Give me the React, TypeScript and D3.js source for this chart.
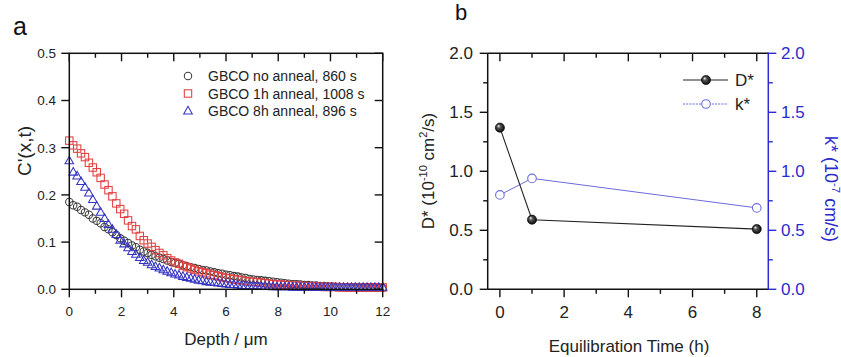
import React from "react";
import * as d3 from "d3";

// panel a: tracer profiles, depth in um
const depth = [
	0, 0.15, 0.3, 0.45, 0.6, 0.75, 0.9, 1.05, 1.2, 1.35, 1.5, 1.65, 1.8, 1.95, 2.1, 2.25, 2.4, 2.55, 2.7, 2.85,
	3, 3.15, 3.3, 3.45, 3.6, 3.75, 3.9, 4.05, 4.2, 4.35, 4.5, 4.65, 4.8, 4.95, 5.1, 5.25, 5.4, 5.55, 5.7, 5.85,
	6, 6.15, 6.3, 6.45, 6.6, 6.75, 6.9, 7.05, 7.2, 7.35, 7.5, 7.65, 7.8, 7.95, 8.1, 8.25, 8.4, 8.55, 8.7, 8.85,
	9, 9.15, 9.3, 9.45, 9.6, 9.75, 9.9, 10.05, 10.2, 10.35, 10.5, 10.65, 10.8, 10.95, 11.1, 11.25, 11.4, 11.55,
	11.7, 11.85, 12,
];
const cNoAnneal = [
	0.185, 0.178, 0.175, 0.168, 0.163, 0.158, 0.15, 0.145, 0.14, 0.132, 0.127, 0.121, 0.115, 0.108, 0.103, 0.098,
	0.093, 0.089, 0.084, 0.08, 0.077, 0.073, 0.07, 0.067, 0.064, 0.061, 0.058, 0.056, 0.054, 0.051, 0.049, 0.047,
	0.045, 0.043, 0.041, 0.04, 0.038, 0.036, 0.034, 0.033, 0.031, 0.03, 0.028, 0.027, 0.025, 0.024, 0.022, 0.021,
	0.02, 0.019, 0.018, 0.017, 0.016, 0.015, 0.014, 0.013, 0.012, 0.011, 0.011, 0.01, 0.009, 0.009, 0.008, 0.008,
	0.007, 0.007, 0.006, 0.006, 0.005, 0.005, 0.005, 0.004, 0.004, 0.004, 0.004, 0.003, 0.003, 0.003, 0.003, 0.003,
	0.003,
];
const c1h = [
	0.315, 0.305, 0.298, 0.288, 0.28, 0.268, 0.258, 0.248, 0.236, 0.222, 0.21, 0.197, 0.182, 0.17, 0.16, 0.146,
	0.134, 0.127, 0.113, 0.104, 0.097, 0.09, 0.083, 0.077, 0.072, 0.066, 0.061, 0.057, 0.054, 0.05, 0.047, 0.044,
	0.041, 0.038, 0.036, 0.034, 0.031, 0.03, 0.028, 0.026, 0.024, 0.023, 0.021, 0.02, 0.019, 0.017, 0.016, 0.016,
	0.015, 0.014, 0.013, 0.012, 0.011, 0.01, 0.01, 0.009, 0.009, 0.008, 0.008, 0.007, 0.007, 0.007, 0.006, 0.006,
	0.006, 0.005, 0.005, 0.005, 0.005, 0.004, 0.004, 0.004, 0.004, 0.004, 0.004, 0.004, 0.004, 0.004, 0.004, 0.004,
	0.004,
];
const c8h = [
	0.272, 0.248, 0.24, 0.228, 0.216, 0.204, 0.19, 0.176, 0.163, 0.15, 0.137, 0.127, 0.116, 0.104, 0.096, 0.088,
	0.08, 0.074, 0.067, 0.061, 0.057, 0.052, 0.048, 0.045, 0.041, 0.038, 0.035, 0.032, 0.03, 0.027, 0.025, 0.023,
	0.021, 0.019, 0.018, 0.016, 0.015, 0.014, 0.013, 0.012, 0.011, 0.01, 0.01, 0.009, 0.008, 0.008, 0.007, 0.007,
	0.007, 0.006, 0.006, 0.006, 0.005, 0.005, 0.005, 0.005, 0.005, 0.004, 0.004, 0.004, 0.004, 0.004, 0.004, 0.004,
	0.004, 0.004, 0.004, 0.004, 0.004, 0.004, 0.004, 0.004, 0.004, 0.004, 0.004, 0.004, 0.004, 0.004, 0.004, 0.004,
	0.004,
];
const profileLabels = ["GBCO no anneal, 860 s", "GBCO 1h anneal, 1008 s", "GBCO 8h anneal, 896 s"];
const depthTicks = [0, 2, 4, 6, 8, 10, 12];
const depthMinor = [1, 3, 5, 7, 9, 11];
const cTicks = [0, 0.1, 0.2, 0.3, 0.4, 0.5];

// panel b: D* and k* vs equilibration time
const eqTime = [0, 1, 8];
const dStar = [1.37, 0.59, 0.51];
const kStar = [0.8, 0.94, 0.69];
const timeTicks = [0, 2, 4, 6, 8];
const timeMinor = [1, 3, 5, 7];
const dkTicks = [0, 0.5, 1, 1.5, 2];
const dkMinor = [0.25, 0.75, 1.25, 1.75];

const FONT = "Arial, 'Liberation Sans', sans-serif";
const BLUE = "#2b2bd0";
const KCOL = "#6b6bdc";

function Marker({ kind, x, y }: { kind: number; x: number; y: number }) {
	if (kind === 0) return <circle cx={x} cy={y} r={3.7} fill="none" stroke="#3a3a3a" strokeWidth={1.05} />;
	if (kind === 1)
		return <rect x={x - 3.7} y={y - 3.7} width={7.4} height={7.4} fill="none" stroke="#e0403f" strokeWidth={1.05} />;
	return (
		<path
			d={`M${x},${y - 4.7}L${x + 4.3},${y + 2.9}L${x - 4.3},${y + 2.9}Z`}
			fill="none"
			stroke="#3434c4"
			strokeWidth={1.05}
		/>
	);
}

function PanelA() {
	const x = d3.scaleLinear().domain([0, 12]).range([69.3, 382.7]);
	const y = d3.scaleLinear().domain([0, 0.5]).range([289.3, 53.3]);
	const [x0, x1] = x.range();
	const [y0, y1] = y.range();
	const series = [cNoAnneal, c1h, c8h];
	return (
		<g fontFamily={FONT}>
			<text x={13} y={35} fontSize={25} fill="#111">a</text>
			{series.map((vals, k) => (
				<g key={k}>
					{vals.map((v, i) => (
						<Marker key={i} kind={k} x={x(depth[i])} y={y(v)} />
					))}
				</g>
			))}
			<rect x={x0} y={y1} width={x1 - x0} height={y0 - y1} fill="none" stroke="#111" strokeWidth={1.5} />
			{depthTicks.map((t) => (
				<g key={t}>
					<line x1={x(t)} x2={x(t)} y1={y0} y2={y0 + 8} stroke="#111" strokeWidth={1.4} />
					<line x1={x(t)} x2={x(t)} y1={y1} y2={y1 + 8} stroke="#111" strokeWidth={1.4} />
					<text x={x(t)} y={315.5} fontSize={13.5} textAnchor="middle" fill="#222">{t}</text>
				</g>
			))}
			{depthMinor.map((t) => (
				<g key={t}>
					<line x1={x(t)} x2={x(t)} y1={y0} y2={y0 + 4.5} stroke="#111" strokeWidth={1.4} />
					<line x1={x(t)} x2={x(t)} y1={y1} y2={y1 + 4.5} stroke="#111" strokeWidth={1.4} />
				</g>
			))}
			{cTicks.map((t) => (
				<g key={t}>
					<line x1={x0} x2={x0 - 8} y1={y(t)} y2={y(t)} stroke="#111" strokeWidth={1.4} />
					<line x1={x1} x2={x1 - 8} y1={y(t)} y2={y(t)} stroke="#111" strokeWidth={1.4} />
					<text x={56} y={y(t) + 4.8} fontSize={13.5} textAnchor="end" fill="#222">{t.toFixed(1)}</text>
				</g>
			))}
			<text x={226} y={345} fontSize={17} textAnchor="middle" fill="#222">Depth / μm</text>
			<text transform="translate(31,151) rotate(-90)" fontSize={19} textAnchor="middle" fill="#222">
				C'(x,t)
			</text>
			{profileLabels.map((lab, k) => (
				<g key={lab}>
					<Marker kind={k} x={188} y={76 + k * 17.5} />
					<text x={208} y={76 + k * 17.5 + 5} fontSize={14} fill="#222">{lab}</text>
				</g>
			))}
		</g>
	);
}

function PanelB() {
	const x = d3.scaleLinear().domain([-0.38, 8.36]).range([487.7, 768.3]);
	const yL = d3.scaleLinear().domain([0, 2]).range([289.3, 53.3]);
	const yR = d3.scaleLinear().domain([0, 2]).range([289.3, 53.3]);
	const [x0, x1] = x.range();
	const [y0, y1] = yL.range();
	const dPath = d3.line<number>().x((_, i) => x(eqTime[i])).y((v) => yL(v))(dStar) || "";
	const kPath = d3.line<number>().x((_, i) => x(eqTime[i])).y((v) => yR(v))(kStar) || "";
	return (
		<g fontFamily={FONT}>
			<defs>
				<radialGradient id="ball" cx="0.5" cy="0.5" r="0.55" fx="0.32" fy="0.3">
					<stop offset="0" stopColor="#ffffff" />
					<stop offset="0.35" stopColor="#555" />
					<stop offset="1" stopColor="#000" />
				</radialGradient>
			</defs>
			<text x={455} y={20} fontSize={22} fill="#111">b</text>
			<path d={kPath} fill="none" stroke={KCOL} strokeWidth={1} />
			<path d={dPath} fill="none" stroke="#222" strokeWidth={1.1} />
			{kStar.map((v, i) => (
				<circle key={i} cx={x(eqTime[i])} cy={yR(v)} r={4.3} fill="#fff" stroke={KCOL} strokeWidth={1.1} />
			))}
			{dStar.map((v, i) => (
				<circle key={i} cx={x(eqTime[i])} cy={yL(v)} r={4.6} fill="url(#ball)" stroke="#000" strokeWidth={0.6} />
			))}
			{/* frame */}
			<line x1={x0} x2={x1} y1={y0} y2={y0} stroke="#111" strokeWidth={1.5} />
			<line x1={x0} x2={x1} y1={y1} y2={y1} stroke="#111" strokeWidth={1.5} />
			<line x1={x0} x2={x0} y1={y0} y2={y1} stroke="#111" strokeWidth={1.5} />
			<line x1={x1} x2={x1} y1={y0 + 0.7} y2={y1 - 0.7} stroke={BLUE} strokeWidth={1.5} />
			{timeTicks.map((t) => (
				<g key={t}>
					<line x1={x(t)} x2={x(t)} y1={y0} y2={y0 + 8} stroke="#111" strokeWidth={1.4} />
					<line x1={x(t)} x2={x(t)} y1={y1} y2={y1 + 8} stroke="#111" strokeWidth={1.4} />
					<text x={x(t)} y={318} fontSize={17} textAnchor="middle" fill="#222">{t}</text>
				</g>
			))}
			{timeMinor.map((t) => (
				<g key={t}>
					<line x1={x(t)} x2={x(t)} y1={y0} y2={y0 + 4.5} stroke="#111" strokeWidth={1.4} />
					<line x1={x(t)} x2={x(t)} y1={y1} y2={y1 + 4.5} stroke="#111" strokeWidth={1.4} />
				</g>
			))}
			{dkTicks.map((t) => (
				<g key={t}>
					<line x1={x0} x2={x0 - 8} y1={yL(t)} y2={yL(t)} stroke="#111" strokeWidth={1.4} />
					<text x={473} y={yL(t) + 6} fontSize={17} textAnchor="end" fill="#222">{t.toFixed(1)}</text>
					<line x1={x1} x2={x1 + 8} y1={yR(t)} y2={yR(t)} stroke={BLUE} strokeWidth={1.4} />
					<text x={781} y={yR(t) + 6} fontSize={17} fill={BLUE}>{t.toFixed(1)}</text>
				</g>
			))}
			{dkMinor.map((t) => (
				<g key={t}>
					<line x1={x0} x2={x0 - 4.5} y1={yL(t)} y2={yL(t)} stroke="#111" strokeWidth={1.4} />
					<line x1={x1} x2={x1 + 4.5} y1={yR(t)} y2={yR(t)} stroke={BLUE} strokeWidth={1.4} />
				</g>
			))}
			<text x={629} y={352} fontSize={17} textAnchor="middle" fill="#222">Equilibration Time (h)</text>
			<text transform="translate(434,171) rotate(-90)" fontSize={17} textAnchor="middle" fill="#222">
				D* (10<tspan fontSize={11} dy={-7}>-10</tspan>
				<tspan dy={7}> cm</tspan>
				<tspan fontSize={11} dy={-7}>2</tspan>
				<tspan dy={7}>/s)</tspan>
			</text>
			<text transform="translate(825,189) rotate(90)" fontSize={18} textAnchor="middle" fill={BLUE}>
				k* (10<tspan fontSize={11.5} dy={-7}>-7</tspan>
				<tspan dy={7}> cm/s)</tspan>
			</text>
			{/* legend */}
			<line x1={683} x2={728} y1={80} y2={80} stroke="#222" strokeWidth={1.1} />
			<circle cx={706} cy={80} r={4.6} fill="url(#ball)" stroke="#000" strokeWidth={0.6} />
			<text x={735} y={86} fontSize={17} fill="#222">D*</text>
			<line x1={683} x2={728} y1={104} y2={104} stroke={KCOL} strokeWidth={1} strokeDasharray="2 1.2" />
			<circle cx={706} cy={104} r={4.3} fill="#fff" stroke={KCOL} strokeWidth={1.1} />
			<text x={735} y={110} fontSize={17} fill="#222">k*</text>
		</g>
	);
}

export default function App() {
	return (
		<svg
			width={841}
			height={357}
			viewBox="0 0 841 357"
			style={{ position: "absolute", left: 0, top: 0, background: "#fff" }}
		>
			<rect width={841} height={357} fill="#fff" />
			<PanelA />
			<PanelB />
		</svg>
	);
}
